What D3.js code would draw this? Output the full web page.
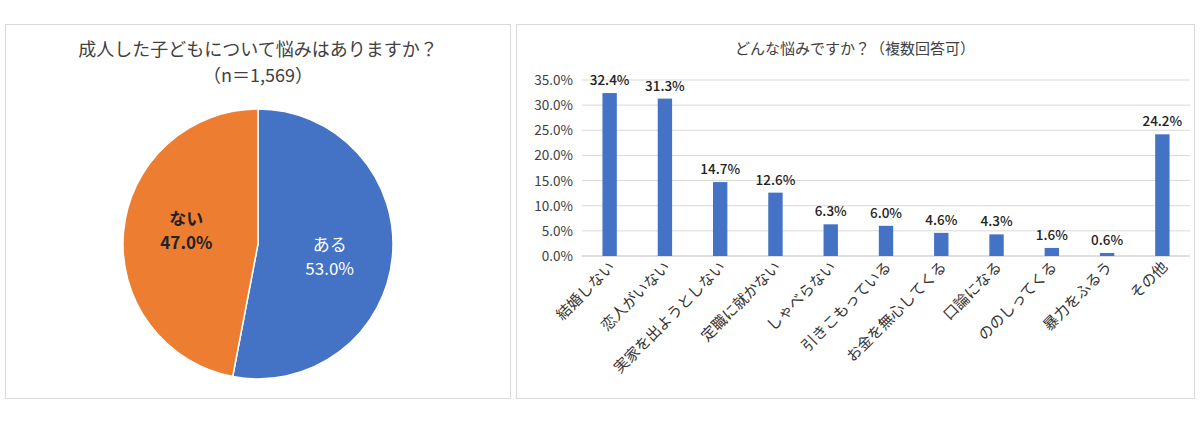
<!DOCTYPE html>
<html>
<head>
<meta charset="utf-8">
<script src="https://cdn.jsdelivr.net/npm/d3@7"></script>
<style>
body { margin: 0; background: #fff; font-family: "Noto Sans CJK JP", "Noto Sans", sans-serif; }
</style>
</head>
<body>
<svg id="chart" width="1200" height="425"></svg>
<script>
var PIE_LABELS = ['ある', 'ない'];
var PIE_VALUES = [53.0, 47.0];
var PIE_COLORS = ['#4472c4', '#ed7d31'];

var CATEGORIES = ['結婚しない', '恋人がいない', '実家を出ようとしない', '定職に就かない', 'しゃべらない',
                  '引きこもっている', 'お金を無心してくる', '口論になる', 'ののしってくる', '暴力をふるう', 'その他'];
var VALUES = [32.4, 31.3, 14.7, 12.6, 6.3, 6.0, 4.6, 4.3, 1.6, 0.6, 24.2];
var Y_TICKS = [0, 5, 10, 15, 20, 25, 30, 35];

var svg = d3.select('#chart');
var textColor = '#404040';

// panel frames
svg.append('rect').attr('x', 5.5).attr('y', 24.5).attr('width', 505).attr('height', 374)
   .attr('fill', 'none').attr('stroke', '#d9d9d9');
svg.append('rect').attr('x', 516.5).attr('y', 24.5).attr('width', 678).attr('height', 374)
   .attr('fill', 'none').attr('stroke', '#d9d9d9');

// pie
svg.append('text').attr('x', 258).attr('y', 56).attr('text-anchor', 'middle')
   .attr('font-size', 18).attr('fill', textColor).text('成人した子どもについて悩みはありますか？');
svg.append('text').attr('x', 258).attr('y', 82).attr('text-anchor', 'middle')
   .attr('font-size', 18).attr('fill', textColor).text('（n＝1,569）');

var pieG = svg.append('g').attr('transform', 'translate(258,244)');
var arcs = d3.pie().sort(null)(PIE_VALUES);
var arc = d3.arc().innerRadius(0).outerRadius(135);
pieG.selectAll('path').data(arcs).join('path')
    .attr('d', arc).attr('fill', function(d, i) { return PIE_COLORS[i]; })
    .attr('stroke', '#fff').attr('stroke-width', 1.5);
var labelArc = d3.arc().innerRadius(72).outerRadius(72);
arcs.forEach(function(d, i) {
    var c = labelArc.centroid(d);
    var dx = i === 0 ? 0 : 0, dy = i === 0 ? 0 : -12;
    var common = function(t) {
        return t.attr('text-anchor', 'middle').attr('font-size', 17)
                .attr('font-weight', i === 1 ? 'bold' : 'normal')
                .attr('fill', i === 0 ? '#fff' : '#222');
    };
    common(pieG.append('text')).attr('x', c[0] + dx).attr('y', c[1] + dy).text(PIE_LABELS[i]);
    common(pieG.append('text')).attr('x', c[0] + dx).attr('y', c[1] + dy + 24).text(PIE_VALUES[i].toFixed(1) + '%');
});

// bar chart
svg.append('text').attr('x', 855).attr('y', 54).attr('text-anchor', 'middle')
   .attr('font-size', 15).attr('fill', textColor).text('どんな悩みですか？（複数回答可）');

var x = d3.scaleBand().domain(CATEGORIES).range([582, 1190]).paddingInner(0.74).paddingOuter(0.37);
var y = d3.scaleLinear().domain([0, 35]).range([256, 80]);

var grid = svg.append('g');
Y_TICKS.forEach(function(t) {
    grid.append('line').attr('x1', 582).attr('x2', 1190).attr('y1', y(t)).attr('y2', y(t))
        .attr('stroke', t === 0 ? '#bfbfbf' : '#d9d9d9');
    grid.append('text').attr('x', 573).attr('y', y(t) + 5).attr('text-anchor', 'end')
        .attr('font-size', 13.5).attr('fill', textColor).text(t.toFixed(1) + '%');
});

svg.append('g').selectAll('rect').data(VALUES).join('rect')
   .attr('x', function(d, i) { return x(CATEGORIES[i]); })
   .attr('width', x.bandwidth())
   .attr('y', function(d) { return y(d); })
   .attr('height', function(d) { return y(0) - y(d); })
   .attr('fill', '#4472c4');

svg.append('g').selectAll('text').data(VALUES).join('text')
   .attr('x', function(d, i) { return x(CATEGORIES[i]) + x.bandwidth() / 2; })
   .attr('y', function(d) { return Math.max(y(d) - 8, 82); })
   .attr('text-anchor', 'middle').attr('font-size', 13.5).attr('font-weight', 500).attr('fill', '#222')
   .text(function(d) { return d.toFixed(1) + '%'; });

svg.append('g').selectAll('text').data(CATEGORIES).join('text')
   .attr('transform', function(d) {
       return 'translate(' + (x(d) + x.bandwidth() / 2 + 6) + ',268) rotate(-45)';
   })
   .attr('text-anchor', 'end').attr('font-size', 15).attr('fill', '#333')
   .text(function(d) { return d; });
</script>
</body>
</html>
